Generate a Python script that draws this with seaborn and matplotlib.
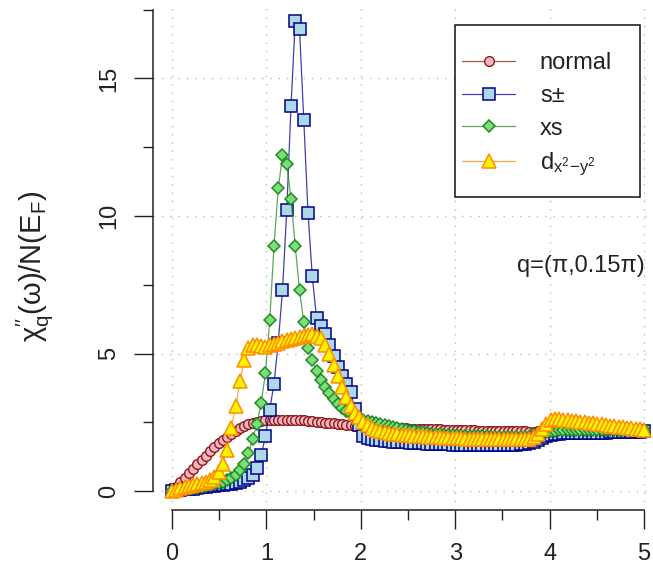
import numpy as np
import matplotlib
matplotlib.use("Agg")
import matplotlib.pyplot as plt
import seaborn as sns
from matplotlib.patches import Rectangle

# frequency grid omega (0 .. 5)
omega = np.linspace(0, 5, 112)

normal = [
    0.00, 0.16, 0.32, 0.48, 0.65, 0.81, 0.97, 1.13, 1.29, 1.44,
    1.59, 1.73, 1.86, 1.98, 2.09, 2.20, 2.29, 2.37, 2.43, 2.48,
    2.52, 2.55, 2.57, 2.58, 2.59, 2.60, 2.60, 2.60, 2.59, 2.59,
    2.58, 2.57, 2.56, 2.54, 2.52, 2.51, 2.49, 2.47, 2.46, 2.44,
    2.42, 2.41, 2.39, 2.38, 2.36, 2.35, 2.34, 2.33, 2.32, 2.32,
    2.31, 2.30, 2.30, 2.29, 2.28, 2.28, 2.27, 2.27, 2.26, 2.26,
    2.25, 2.25, 2.24, 2.24, 2.23, 2.23, 2.22, 2.22, 2.22, 2.21,
    2.21, 2.21, 2.20, 2.20, 2.20, 2.19, 2.19, 2.19, 2.18, 2.18,
    2.18, 2.17, 2.17, 2.17, 2.16, 2.16, 2.17, 2.19, 2.22, 2.25,
    2.26, 2.26, 2.25, 2.25, 2.24, 2.24, 2.24, 2.23, 2.23, 2.23,
    2.22, 2.22, 2.22, 2.21, 2.21, 2.21, 2.20, 2.20, 2.20, 2.19,
    2.19, 2.18,
]

s_pm = [
    0.00, 0.02, 0.04, 0.06, 0.07, 0.09, 0.11, 0.13, 0.15, 0.17,
    0.19, 0.21, 0.23, 0.25, 0.27, 0.30, 0.34, 0.40, 0.48, 0.60,
    0.85, 1.30, 2.00, 2.95, 3.90, 5.40, 7.30, 10.20, 14.00, 17.10,
    16.80, 13.50, 10.10, 7.80, 6.30, 6.00, 5.70, 5.30, 4.90, 4.50,
    4.20, 3.90, 3.60, 3.00, 2.40, 2.00, 1.92, 1.88, 1.86, 1.84,
    1.82, 1.81, 1.80, 1.79, 1.78, 1.77, 1.76, 1.75, 1.74, 1.73,
    1.72, 1.72, 1.71, 1.71, 1.70, 1.70, 1.69, 1.69, 1.69, 1.68,
    1.68, 1.68, 1.68, 1.68, 1.68, 1.68, 1.68, 1.68, 1.68, 1.68,
    1.68, 1.69, 1.70, 1.71, 1.73, 1.77, 1.84, 1.92, 1.99, 2.05,
    2.08, 2.09, 2.10, 2.10, 2.10, 2.11, 2.11, 2.11, 2.11, 2.12,
    2.12, 2.12, 2.12, 2.13, 2.13, 2.13, 2.14, 2.14, 2.15, 2.15,
    2.16, 2.17,
]

xs = [
    0.00, 0.02, 0.04, 0.06, 0.08, 0.10, 0.12, 0.15, 0.18, 0.21,
    0.25, 0.29, 0.34, 0.40, 0.48, 0.60, 0.75, 1.00, 1.40, 1.90,
    2.45, 3.20, 4.30, 6.20, 8.90, 11.00, 12.20, 11.90, 10.60, 8.90,
    7.30, 6.15, 5.20, 4.75, 4.35, 4.05, 3.78, 3.55, 3.35, 3.17,
    3.02, 2.90, 2.80, 2.73, 2.67, 2.60, 2.56, 2.52, 2.48, 2.44,
    2.40, 2.36, 2.32, 2.29, 2.26, 2.23, 2.20, 2.17, 2.15, 2.13,
    2.11, 2.09, 2.07, 2.06, 2.05, 2.04, 2.03, 2.02, 2.01, 2.01,
    2.00, 2.00, 1.99, 1.99, 1.99, 1.98, 1.98, 1.98, 1.98, 1.97,
    1.97, 1.97, 1.97, 1.97, 1.98, 2.02, 2.07, 2.12, 2.16, 2.19,
    2.20, 2.21, 2.21, 2.21, 2.21, 2.21, 2.21, 2.21, 2.21, 2.21,
    2.21, 2.21, 2.21, 2.21, 2.21, 2.21, 2.22, 2.22, 2.22, 2.22,
    2.22, 2.22,
]

d_wave = [
    0.00, 0.05, 0.10, 0.14, 0.18, 0.22, 0.26, 0.30, 0.34, 0.40,
    0.50, 0.70, 1.00, 1.50, 2.30, 3.10, 4.00, 4.75, 5.20, 5.30,
    5.30, 5.28, 5.25, 5.30, 5.35, 5.40, 5.44, 5.48, 5.52, 5.56,
    5.60, 5.64, 5.68, 5.70, 5.65, 5.55, 5.30, 5.00, 4.60, 4.20,
    3.80, 3.42, 3.10, 2.85, 2.68, 2.52, 2.40, 2.30, 2.22, 2.17,
    2.13, 2.10, 2.08, 2.06, 2.04, 2.03, 2.02, 2.01, 2.00, 1.99,
    1.98, 1.97, 1.96, 1.95, 1.94, 1.93, 1.92, 1.91, 1.91, 1.90,
    1.90, 1.89, 1.89, 1.89, 1.88, 1.88, 1.88, 1.88, 1.88, 1.88,
    1.88, 1.88, 1.88, 1.89, 1.90, 1.96, 2.08, 2.26, 2.45, 2.57,
    2.62, 2.62, 2.60, 2.58, 2.56, 2.54, 2.52, 2.50, 2.48, 2.46,
    2.44, 2.42, 2.40, 2.38, 2.36, 2.34, 2.32, 2.30, 2.28, 2.26,
    2.24, 2.22,
]

series_labels = ["normal", "s±", "xs", r"d$\mathregular{_{x^2\!-\!y^2}}$"]
x_ticks = [0, 1, 2, 3, 4, 5]
y_ticks = [0, 5, 10, 15]
y_title = r"χ$\mathregular{_q^{\prime\prime}}$(ω)/N(E$\mathregular{_F}$)"
annotation = "q=(π,0.15π)"

sns.set_theme(style="ticks")
plt.rcParams["font.family"] = ["Liberation Sans", "DejaVu Sans"]
plt.rcParams["mathtext.fontset"] = "custom"
plt.rcParams["mathtext.rm"] = "Liberation Sans"
plt.rcParams["mathtext.it"] = "Liberation Sans:italic"
plt.rcParams["mathtext.bf"] = "Liberation Sans:bold"

W, H = 653, 579
fig = plt.figure(figsize=(W / 100, H / 100), dpi=100)
ax = fig.add_axes([153 / W, (H - 510) / H, 510 / W, 508 / H])

styles = [
    dict(marker="o", markersize=7, color="#8B1A1A", markeredgewidth=1.0,
         markerfacecolor="#F4B5C1", markeredgecolor="#8B1A1A"),
    dict(marker="s", markersize=9, color="#00008B", markeredgewidth=1.1,
         markerfacecolor="#ADD8E6", markeredgecolor="#00008B"),
    dict(marker="D", markersize=6.6, color="#228B22", markeredgewidth=1.1,
         markerfacecolor="#7CDD7C", markeredgecolor="#228B22"),
    dict(marker="^", markersize=10, color="#FF8C00", markeredgewidth=1.1,
         markerfacecolor="#FFF200", markeredgecolor="#FF8C00"),
]

for values, lab, st in zip([normal, s_pm, xs, d_wave], series_labels, styles):
    sns.lineplot(x=omega, y=values, ax=ax, sort=False, estimator=None,
                 label=lab, linewidth=0.9, **st)

# connecting lines a little lighter than the marker outlines
for line in ax.get_lines():
    c = matplotlib.colors.to_rgba(line.get_color(), 0.75)
    line.set_color(c)

ax.set_xlim(-0.2, 5.2)
ax.set_ylim(-0.69, 17.78)

# R-style detached axes
for side in ("top", "right"):
    ax.spines[side].set_visible(False)
ax.spines["left"].set_bounds(0, 17.5)
ax.spines["bottom"].set_bounds(0, 5)
for side in ("left", "bottom"):
    ax.spines[side].set_linewidth(1.1)
    ax.spines[side].set_color("#222222")

ax.set_xticks(x_ticks)
ax.set_xticklabels([str(t) for t in x_ticks])
ax.set_xticks([0.5, 1.5, 2.5, 3.5, 4.5], minor=True)
ax.set_yticks(y_ticks)
ax.set_yticklabels([str(t) for t in y_ticks])
ax.set_yticks([2.5, 7.5, 12.5, 17.5], minor=True)
ax.tick_params(which="both", direction="out", width=1.0, color="#222222",
               bottom=True, left=True, labelsize=17, labelcolor="#222222")
ax.tick_params(which="major", length=13.7)
ax.tick_params(which="minor", length=7.2)
ax.tick_params(axis="x", which="major", pad=10)
ax.tick_params(axis="y", which="major", pad=10, labelrotation=90)
for lab in ax.get_yticklabels():
    lab.set_va("center")

ax.grid(True, which="major", linestyle=(0, (1, 5)), color="#BBBBBB", linewidth=1.0)
ax.set_axisbelow(True)

ax.set_xlabel("")
ax.set_ylabel(y_title, fontsize=21, color="#222222")
ax.yaxis.set_label_coords((55 - 153) / 510, 0.48)

ax.text(4.33, 8.18, annotation, ha="center", va="center", fontsize=17, color="#222222")

# legend box
ax.add_patch(Rectangle((455 / W, 1 - 197 / H), 185 / W, 172 / H,
                       transform=fig.transFigure, clip_on=False,
                       facecolor="white", edgecolor="#111111", linewidth=1.1, zorder=4))
handles, labels = ax.get_legend_handles_labels()
leg = ax.legend(handles, labels, loc="upper left",
                bbox_to_anchor=(462 / W, 1 - 52 / H), bbox_transform=fig.transFigure,
                frameon=False, fontsize=17, handlelength=2.25, handletextpad=1.05,
                labelspacing=0.46, borderpad=0, borderaxespad=0)
leg.set_zorder(5)
for t in leg.get_texts():
    t.set_color("#222222")

fig.savefig("out.png", dpi=100)
